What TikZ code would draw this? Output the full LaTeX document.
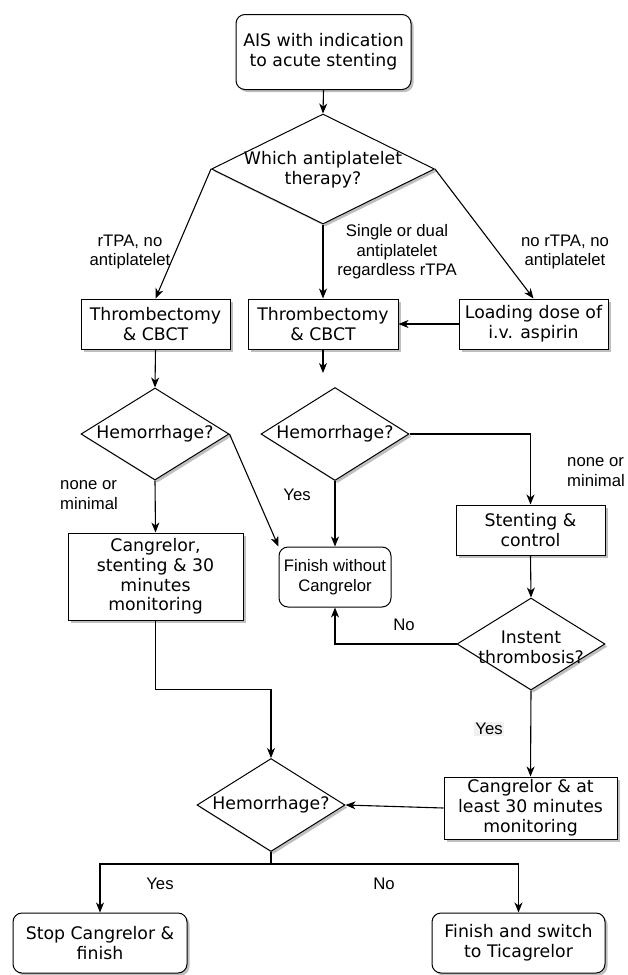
\documentclass[tikz,border=0pt]{standalone}
\usepackage{fontspec}
\setmainfont{DejaVu Sans}
\newfontfamily\labfont{Liberation Sans}
\usetikzlibrary{shapes.geometric,arrows.meta,shadows}
\tikzset{
 shd/.style={drop shadow={shadow xshift=2.5pt,shadow yshift=-2.5pt,fill=black!25,opacity=1}},
 proc/.style={draw, line width=1pt, fill=white, align=center, inner sep=0pt, font=\fontsize{17.3}{19.8}\selectfont},
 procs/.style={proc, shd},
 rnd/.style={procs, rounded corners=9pt},
 dia/.style={draw, diamond, line width=1pt, fill=white, inner sep=0pt, shd},
 dtext/.style={align=center, inner sep=0pt, font=\fontsize{17.3}{19.8}\selectfont},
 lbl/.style={align=center, inner sep=0pt, font=\labfont\fontsize{16.7}{19.5}\selectfont},
 arr/.style={line width=1.1pt, -{Stealth[length=10pt,width=8pt,inset=3pt]}},
 ln/.style={line width=1.1pt},
}
\begin{document}
\begin{tikzpicture}[x=1pt,y=-1pt]
\useasboundingbox[fill=white] (0,0) rectangle (627,975);
% nodes
\node[rnd, minimum width=175, minimum height=75] (top) at (323.5,52) {AIS with indication\\to acute stenting};
\node[dia, minimum width=223, minimum height=110] (d1) at (323,169) {};
\node[dtext] (d1t) at (323,170) {Which antiplatelet\\therapy?};
\node[procs, minimum width=149, minimum height=50] (b1) at (155.5,324) {Thrombectomy\\\& CBCT};
\node[procs, minimum width=150, minimum height=50] (b2) at (323,324) {Thrombectomy\\\& CBCT};
\node[procs, minimum width=149, minimum height=50] (load) at (533.5,324) {Loading dose of\\i.v. aspirin};
\node[dia, minimum width=148, minimum height=92] (h1) at (155,434) {};
\node[dtext] (h1t) at (155,434) {Hemorrhage?};
\node[dia, minimum width=148, minimum height=93] (h2) at (335,434) {};
\node[dtext] (h2t) at (335,434) {Hemorrhage?};
\node[procs, minimum width=175, minimum height=87] (cs) at (155.5,576.5) {Cangrelor,\\stenting \& 30\\minutes\\monitoring};
\node[proc, rounded corners=9pt, minimum width=112, minimum height=60, font=\labfont\fontsize{16.7}{19.5}\selectfont] (fw) at (335,577) {Finish without\\Cangrelor};
\node[procs, minimum width=149, minimum height=50] (st) at (530.5,530) {Stenting \&\\control};
\node[dia, minimum width=148, minimum height=92] (ins) at (531,644) {};
\node[dtext] (inst) at (531,647) {Instent\\thrombosis?};
\node[procs, minimum width=173, minimum height=62] (cal) at (530.5,808) {Cangrelor \& at\\least 30 minutes\\monitoring};
\node[dia, minimum width=148, minimum height=93] (h3) at (271,805) {};
\node[dtext] (h3t) at (271,805) {Hemorrhage?};
\node[rnd, minimum width=174, minimum height=60] (stop) at (100,943) {Stop Cangrelor \&\\finish};
\node[rnd, minimum width=173, minimum height=60] (fin) at (518.5,943) {Finish and switch\\to Ticagrelor};
\coordinate (b2end) at (323,373);
% labels
\node[lbl] (l1) at (130,252) {rTPA, no\\antiplatelet};
\node[lbl] (l2) at (397,252) {Single or dual\\antiplatelet\\regardless rTPA};
\node[lbl] (l3) at (565,252) {no rTPA, no\\antiplatelet};
\node[lbl, align=left] (l4) at (89,495) {none or\\minimal};
\node[lbl] (l5) at (297,495) {Yes};
\node[lbl, align=left] (l6) at (596,472) {none or\\minimal};
\node[lbl] (l7) at (404,625) {No};
\node[lbl, fill=black!6, inner sep=1pt] (l8) at (489,729) {Yes};
\node[lbl] (l9) at (160,884) {Yes};
\node[lbl] (l10) at (384,884) {No};
% connectors
\draw[arr] (top.south) -- (d1.north);
\draw[arr] (d1.west) -- (b1.north);
\draw[arr] (d1.south) -- (b2.north);
\draw[arr] (d1.east) -- (load.north);
\draw[arr] (load.west) -- (b2.east);
\draw[arr] (b1.south) -- (h1.north);
\draw[arr] (b2.south) -- (b2end);
\draw[arr] (h1.south) -- (cs.north);
\draw[arr] (h1.east) -- (fw.north west);
\draw[arr] (h2.south) -- (fw.north);
\draw[arr] (h2.east) -| (st.north);
\draw[arr] (st.south) -- (ins.north);
\draw[arr] (ins.west) -| (fw.south);
\draw[arr] (ins.south) -- (cal.north);
\draw[arr] (cal.west) -- (h3.east);
\draw[arr] (cs.south) -- ++(0,69) -| (h3.north);
\draw[ln] (h3.south) -- ++(0,12) coordinate (split);
\draw[arr] (split) -| (stop.north);
\draw[arr] (split) -| (fin.north);
\end{tikzpicture}
\end{document}
